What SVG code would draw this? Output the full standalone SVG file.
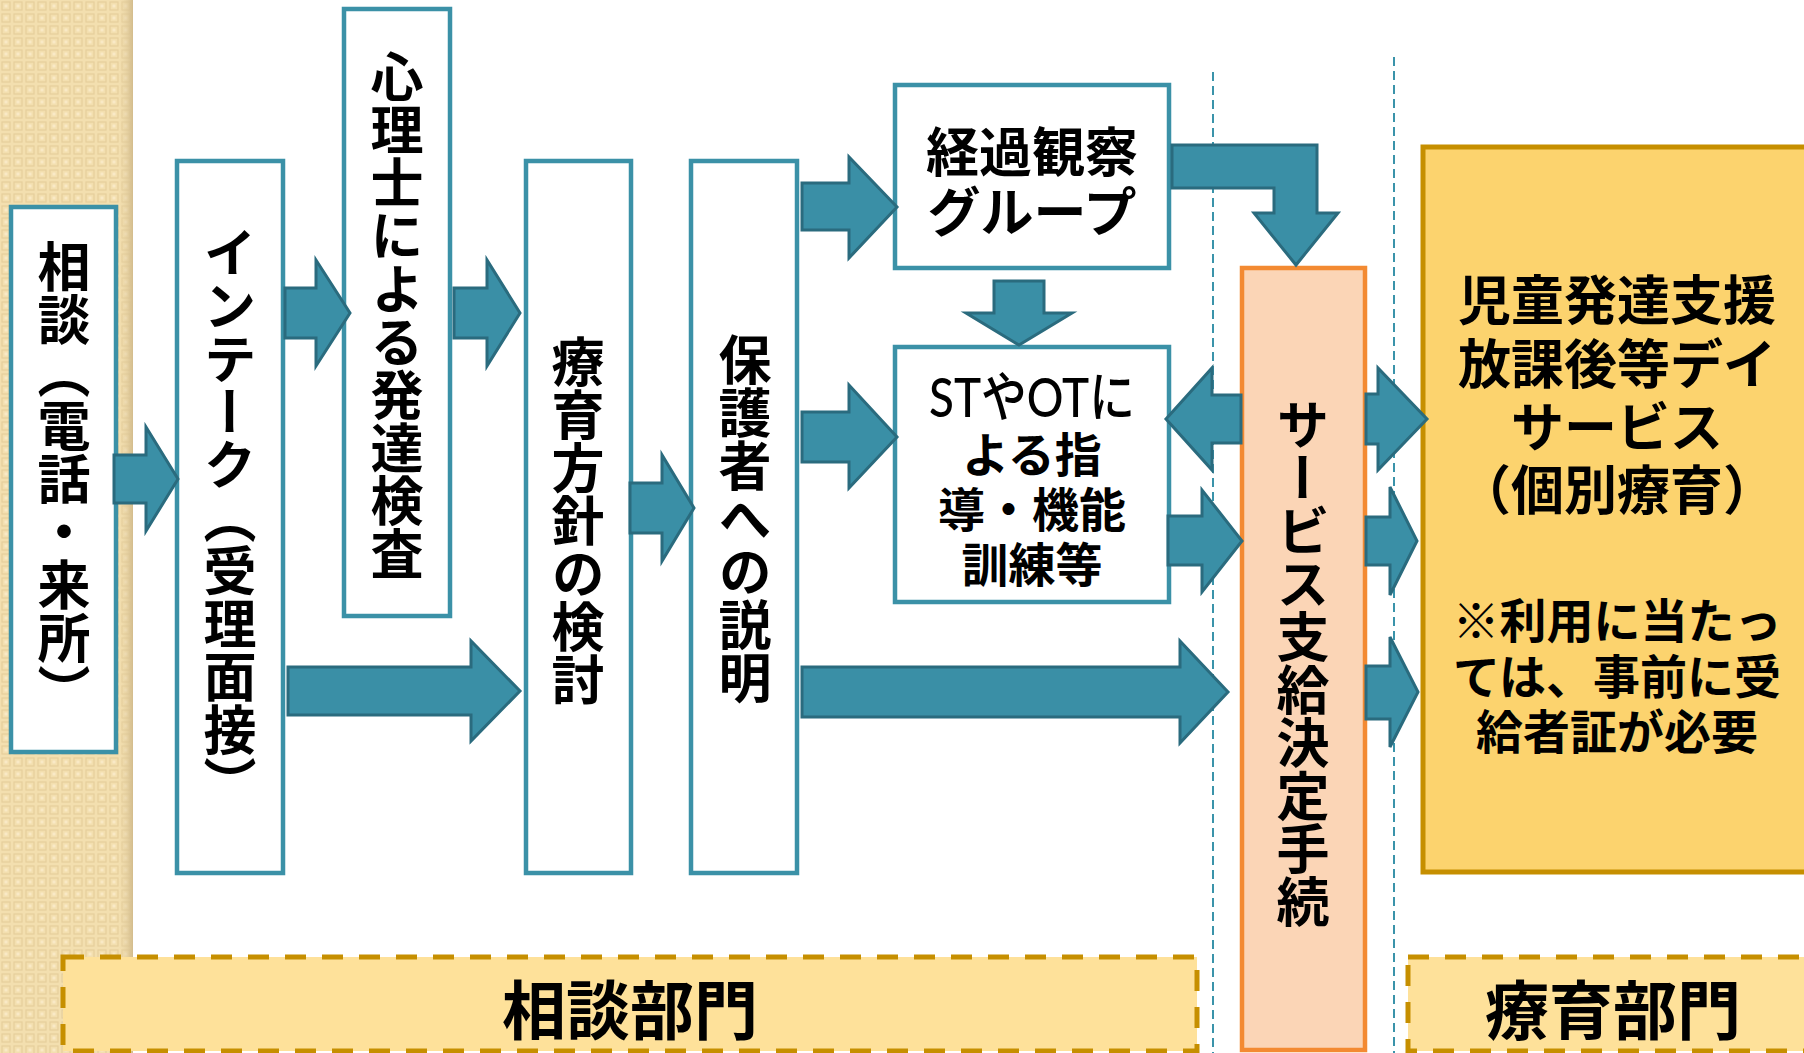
<svg xmlns="http://www.w3.org/2000/svg" width="1804" height="1053" viewBox="0 0 1804 1053">
<defs>
<pattern id="chk" width="12" height="12" patternUnits="userSpaceOnUse">
<rect width="12" height="12" fill="#F3DFAF"/>
<rect x="2" y="2" width="8" height="8" fill="none" stroke="#E6CF9C" stroke-width="1.2"/>
<rect x="4.5" y="4.5" width="3" height="3" fill="#F9E9C6"/>
</pattern>
<linearGradient id="edge" x1="0" y1="0" x2="1" y2="0">
<stop offset="0" stop-color="#EEDAAC" stop-opacity="0"/>
<stop offset="1" stop-color="#D3BC8C"/>
</linearGradient>
<style>
.box{fill:#FFFFFF;stroke:#3B91A7;stroke-width:4.5}
.arr{fill:#3A8FA6;stroke:#2A6B7E;stroke-width:3;stroke-linejoin:miter}
.vl{stroke:#3A93AA;stroke-width:2;stroke-dasharray:9 5;fill:none}
.dept{fill:#FEE19A;stroke:#C68F00;stroke-width:5;stroke-dasharray:21 16}
.t{font-family:"Noto Sans CJK JP","Noto Sans CJK SC",sans-serif;font-weight:bold;fill:#000}
.v{writing-mode:vertical-rl;font-size:53px}
.h{text-anchor:middle;dominant-baseline:central}
</style>
</defs>

<g id="background">
<rect x="0" y="0" width="133" height="1053" fill="url(#chk)"/>
<rect x="118" y="0" width="15" height="1053" fill="url(#edge)"/>
<line class="vl" x1="1213" y1="72" x2="1213" y2="1053"/>
<line class="vl" x1="1394" y1="57" x2="1394" y2="1053"/>
</g>

<g id="dept-soudan">
<rect class="dept" x="63" y="957" width="1134" height="94"/>
<text class="t h" x="630" y="1006" font-size="64">相談部門</text>
</g>
<g id="dept-ryouiku">
<rect class="dept" x="1408" y="957" width="420" height="94"/>
<text class="t h" x="1613" y="1006" font-size="64">療育部門</text>
</g>

<g id="node-soudan">
<rect class="box" x="11" y="207" width="105" height="545"/>
<text class="t v" x="64" y="240">相談（電話・来所）</text>
</g>
<g id="node-intake">
<rect class="box" x="177" y="161" width="106" height="712"/>
<text class="t v" x="230" y="226">インテーク（受理面接）</text>
</g>
<g id="node-shinri">
<rect class="box" x="344" y="9" width="106" height="607"/>
<text class="t v" x="397" y="50">心理士による発達検査</text>
</g>
<g id="node-houshin">
<rect class="box" x="526" y="161" width="105" height="712"/>
<text class="t v" x="578" y="335">療育方針の検討</text>
</g>
<g id="node-hogosha">
<rect class="box" x="691" y="161" width="106" height="712"/>
<text class="t v" x="745" y="333">保護者への説明</text>
</g>
<g id="node-keika">
<rect class="box" x="895" y="85" width="274" height="183"/>
<text class="t h" font-size="53"><tspan x="1032" y="149">経過観察</tspan><tspan x="1032" y="209">グループ</tspan></text>
</g>
<g id="node-stot">
<rect class="box" x="895" y="347" width="274" height="255"/>
<text class="t h" font-size="47"><tspan x="1032" y="396" font-size="54" textLength="206" lengthAdjust="spacingAndGlyphs" style="font-family:Lato,'Noto Sans CJK JP',sans-serif;font-weight:500">STやOTに</tspan><tspan x="1032" y="451">よる指</tspan><tspan x="1032" y="506">導・機能</tspan><tspan x="1032" y="561">訓練等</tspan></text>
</g>
<g id="node-service">
<rect x="1242" y="268" width="123" height="782" fill="#FBD5B6" stroke="#F38A32" stroke-width="4.5"/>
<text class="t v" x="1303" y="398">サービス支給決定手続</text>
</g>
<g id="node-jidou">
<rect x="1423" y="147" width="420" height="725" fill="#FCD36E" stroke="#C68F00" stroke-width="5"/>
<text class="t h" font-size="53"><tspan x="1617" y="297">児童発達支援</tspan><tspan x="1617" y="361">放課後等デイ</tspan><tspan x="1617" y="424">サービス</tspan><tspan x="1617" y="487">（個別療育）</tspan><tspan x="1617" y="617" font-size="47">※利用に当たっ</tspan><tspan x="1617" y="673" font-size="47">ては、事前に受</tspan><tspan x="1617" y="728" font-size="47">給者証が必要</tspan></text>
</g>

<g id="connectors">
<polygon class="arr" points="114,455 146,455 146,427 178,479 146,531 146,503 114,503"/>
<polygon class="arr" points="285,288 316,288 316,260 350,313 316,366 316,338 285,338"/>
<polygon class="arr" points="454,288 487,288 487,260 520,313 487,366 487,338 454,338"/>
<polygon class="arr" points="288,667 471,667 471,641 520,691 471,741 471,715 288,715"/>
<polygon class="arr" points="630,483 662,483 662,455 694,508 662,561 662,533 630,533"/>
<polygon class="arr" points="802,183 849,183 849,157 897,207 849,258 849,230 802,230"/>
<polygon class="arr" points="802,412 849,412 849,385 897,437 849,488 849,462 802,462"/>
<polygon class="arr" points="802,667 1180,667 1180,641 1228,692 1180,743 1180,717 802,717"/>
<polygon class="arr" points="994,281 1044,281 1044,313 1072,313 1019,345 966,313 994,313"/>
<polygon class="arr" points="1172,145 1317,145 1317,213 1338,213 1296,265 1254,213 1274,213 1274,188 1172,188"/>
<polygon class="arr" points="1241,395 1212,395 1212,368 1166,419 1212,470 1212,443 1241,443"/>
<polygon class="arr" points="1168,516 1202,516 1202,490 1242,541 1202,592 1202,565 1168,565"/>
<polygon class="arr" points="1366,394 1378,394 1378,368 1427,419 1378,470 1378,444 1366,444"/>
<polygon class="arr" points="1366,517 1390,517 1390,487 1417,541 1390,595 1390,565 1366,565"/>
<polygon class="arr" points="1366,666 1390,666 1390,637 1418,692 1390,747 1390,719 1366,719"/>
</g>
</svg>
